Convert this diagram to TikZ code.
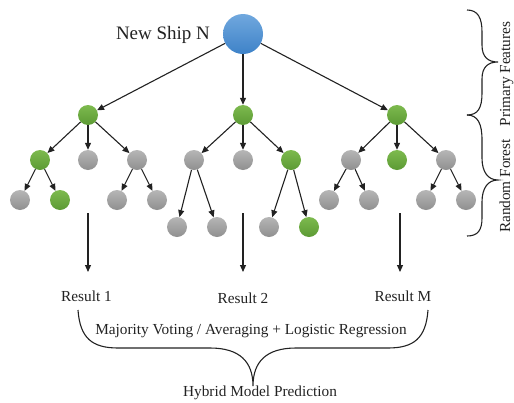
\documentclass[tikz,border=0pt]{standalone}
\usepackage{fontspec}
\setmainfont{Liberation Serif}
\usetikzlibrary{arrows.meta}
\definecolor{blueT}{HTML}{70A8DE}
\definecolor{blueB}{HTML}{3E82C8}
\definecolor{greenT}{HTML}{7DBA4E}
\definecolor{greenB}{HTML}{5C9A34}
\definecolor{greyT}{HTML}{B6B6B6}
\definecolor{greyB}{HTML}{8F8F8F}
\definecolor{ink}{HTML}{222222}
\begin{document}
\begin{tikzpicture}[x=1pt,y=-1pt,
  dot/.style={circle,inner sep=0pt,minimum size=20pt},
  gdot/.style={dot,top color=greenT,bottom color=greenB},
  ydot/.style={dot,top color=greyT,bottom color=greyB},
  rootdot/.style={circle,inner sep=0pt,minimum size=40pt,top color=blueT,bottom color=blueB},
  arr/.style={-{Triangle[length=7pt,width=6pt]},line width=1.1pt,draw=ink},
  lbl/.style={inner sep=0pt,text=ink,font=\fontsize{15.3}{18}\selectfont},
  bigl/.style={inner sep=0pt,text=ink,font=\fontsize{19}{22}\selectfont},
  bracel/.style={line width=1.1pt,draw=ink}]
\useasboundingbox (0,0) rectangle (514,402);
% root
\node[rootdot] (r) at (243,34) {};
\node[bigl] (title) at (163,35) {New Ship N};
% level 1
\node[gdot] (a) at (88,115) {};
\node[gdot] (b) at (243,115) {};
\node[gdot] (c) at (397,115) {};
% level 2
\node[gdot] (a1) at (40,160) {};
\node[ydot] (a2) at (88,160) {};
\node[ydot] (a3) at (137,160) {};
\node[ydot] (b1) at (194,160) {};
\node[ydot] (b2) at (243,160) {};
\node[gdot] (b3) at (291,160) {};
\node[ydot] (c1) at (351,160) {};
\node[gdot] (c2) at (397,160) {};
\node[ydot] (c3) at (446,160) {};
% level 3
\node[ydot] (a11) at (20,200) {};
\node[gdot] (a12) at (60,200) {};
\node[ydot] (a31) at (117,200) {};
\node[ydot] (a32) at (157,200) {};
\node[ydot] (b11) at (177,227) {};
\node[ydot] (b12) at (217,227) {};
\node[ydot] (b31) at (269,227) {};
\node[gdot] (b32) at (309,227) {};
\node[ydot] (c11) at (329,200) {};
\node[ydot] (c12) at (369,200) {};
\node[ydot] (c31) at (426,200) {};
\node[ydot] (c32) at (466,200) {};
% edges
\foreach \p/\q in {r/a,r/b,r/c,a/a1,a/a2,a/a3,b/b1,b/b2,b/b3,c/c1,c/c2,c/c3,
  a1/a11,a1/a12,a3/a31,a3/a32,b1/b11,b1/b12,b3/b31,b3/b32,c1/c11,c1/c12,c3/c31,c3/c32}
  \draw[arr] (\p) -- (\q);
% result arrows
\coordinate (s1) at (88,213);  \coordinate (e1) at (88,272);
\coordinate (s2) at (243,213); \coordinate (e2) at (243,272);
\coordinate (s3) at (400,213); \coordinate (e3) at (400,272);
\draw[arr] (s1) -- (e1);
\draw[arr] (s2) -- (e2);
\draw[arr] (s3) -- (e3);
\node[lbl] (res1) at (86.5,296) {Result 1};
\node[lbl] (res2) at (243,298) {Result 2};
\node[lbl] (resM) at (403,296) {Result M};
% bottom brace
\draw[bracel] (78,310) .. controls (80,338) and (92,348) .. (118,348) -- (210,348)
  .. controls (240,348) and (253,362) .. (253,386)
  .. controls (253,362) and (266,348) .. (296,348) -- (388,348)
  .. controls (414,348) and (426,338) .. (428,310);
\node[lbl] (agg) at (251,331) {Majority Voting / Averaging + Logistic Regression};
\node[lbl] (hyb) at (260,393) {Hybrid Model Prediction};
% right braces
\draw[bracel] (467,10) .. controls (478,10) and (482,18) .. (482,32) -- (482,45)
  .. controls (482,57) and (488,62) .. (498,62)
  .. controls (488,62) and (482,67) .. (482,79) -- (482,93)
  .. controls (482,108) and (478,115) .. (467,115);
\draw[bracel] (467,115) .. controls (478,115) and (482,124) .. (482,140) -- (482,158)
  .. controls (482,172) and (488,180) .. (498,180)
  .. controls (488,180) and (482,188) .. (482,202) -- (482,218)
  .. controls (482,230) and (478,236) .. (467,236);
\node[lbl,rotate=90,anchor=base] (pf) at (510,74) {Primary Features};
\node[lbl,rotate=90,anchor=base] (rf) at (510,186) {Random Forest};
\end{tikzpicture}
\end{document}
